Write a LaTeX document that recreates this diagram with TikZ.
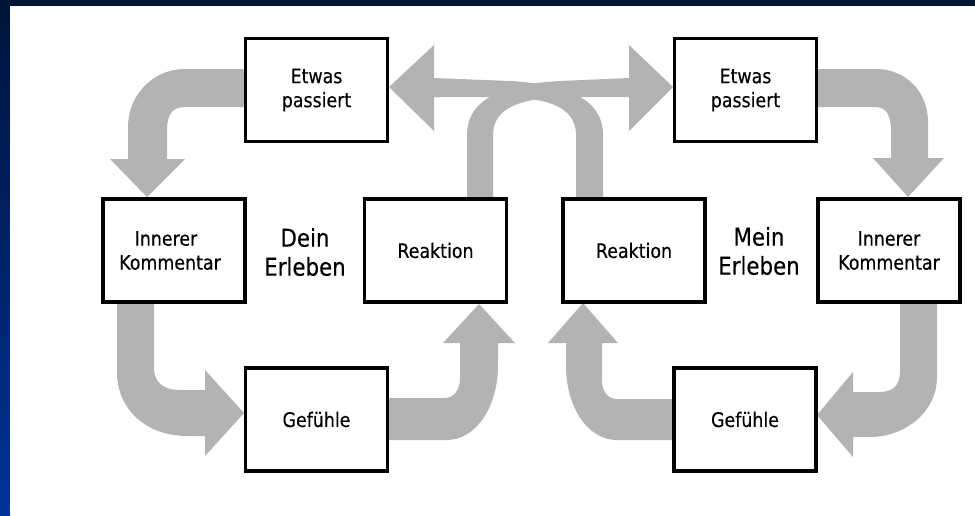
\documentclass[tikz,border=0pt]{standalone}
\usepackage{fontspec}
\setmainfont{DejaVu Sans}[FakeStretch=0.87,FakeBold=0.3]
\definecolor{slidenavy}{RGB}{0,20,56}
\definecolor{slideblue}{RGB}{0,51,153}
\definecolor{flowgray}{RGB}{179,179,179}
\pgfdeclarelayer{canvas}
\pgfdeclarelayer{flows}
\pgfsetlayers{canvas,flows,main}
\begin{document}
\begin{tikzpicture}[x=1pt,y=-1pt,
  stepbox/.style={draw=black, line width=3.2pt, fill=white,
    minimum width=142pt, minimum height=103pt, inner sep=0pt,
    align=center, font=\fontsize{20}{24}\selectfont},
  caption/.style={align=center, inner sep=0pt,
    font=\fontsize{24.5}{29}\selectfont},
  flow/.style={fill=flowgray, draw=none}]
\useasboundingbox (0,0) rectangle (975,515);

% boxes of the two cycles
\node[stepbox] (eL) at (316.5,90)  {Etwas\\passiert};
\node[stepbox] (kL) at (174,250.5) {Innerer\hspace*{16pt}\\Kommentar\hspace*{8pt}};
\node[stepbox] (rL) at (435.5,250.5) {Reaktion};
\node[stepbox] (gL) at (316.5,419.5) {Gefühle};
\node[stepbox] (eR) at (745.5,90)  {Etwas\\passiert};
\node[stepbox] (kR) at (889,250.5) {Innerer\\Kommentar};
\node[stepbox] (rR) at (634,250.5) {Reaktion};
\node[stepbox] (gR) at (745,419.5) {Gefühle};

\node[caption] (dein) at (305,252) {Dein\\Erleben};
\node[caption] (mein) at (759,251) {Mein\\Erleben};

% slide frame
\begin{pgfonlayer}{canvas}
  \fill[slidenavy] (0,0) rectangle (975,515);
  \shade[top color=slidenavy, bottom color=slideblue] (0,0) rectangle (10,515);
  \fill[white] (10,6) rectangle (975,515);
\end{pgfonlayer}

% bent block arrows
\begin{pgfonlayer}{flows}
  % Etwas passiert -> Innerer Kommentar (left)
  \fill[flow] (244,69) -- (185,69) .. controls (153,69) and (128,95) .. (128,127)
    -- (128,159) -- (110,159) -- (147,197) -- (185,159) -- (167,159) -- (167,130)
    .. controls (167,115) and (172,107) .. (185,107) -- (244,107) -- cycle;
  % Innerer Kommentar -> Gefuehle (left)
  \fill[flow] (117,303) -- (117,372) .. controls (117,410) and (147,436) .. (187,436)
    -- (205,436) -- (205,456) -- (244,413) -- (205,370) -- (205,390) -- (180,390)
    .. controls (163,390) and (154,382) .. (154,368) -- (154,303) -- cycle;
  % Gefuehle -> Reaktion (left)
  \fill[flow] (389,398) -- (445,398) .. controls (454,398) and (460,390) .. (460,378)
    -- (460,343) -- (443,343) -- (479,304) -- (515,343) -- (498,343) -- (498,365)
    .. controls (498,408) and (475,440) .. (447,440) -- (389,440) -- cycle;
  % Etwas passiert -> Innerer Kommentar (right)
  \fill[flow] (818,69) -- (876,69) .. controls (906,69) and (928,92) .. (928,122)
    -- (928,158) -- (944,158) -- (908,197) -- (873,158) -- (891,158) -- (891,130)
    .. controls (891,115) and (886,107) .. (875,107) -- (818,107) -- cycle;
  % Innerer Kommentar -> Gefuehle (right)
  \fill[flow] (937,303) -- (937,377) .. controls (937,412) and (905,437) .. (870,437)
    -- (853,437) -- (853,457) -- (817,415) -- (853,372) -- (853,392) -- (880,392)
    .. controls (893,392) and (900,385) .. (900,372) -- (900,303) -- cycle;
  % Gefuehle -> Reaktion (right)
  \fill[flow] (673,399) -- (617,399) .. controls (608,399) and (602,392) .. (602,380)
    -- (602,343) -- (618,343) -- (583,303) -- (548,343) -- (566,343) -- (566,365)
    .. controls (566,408) and (588,440) .. (617,440) -- (673,440) -- cycle;
  % crossing arrows: each Reaktion -> the other Etwas passiert
  \fill[flow] (467,198) -- (467,135) .. controls (467,98) and (505,84) .. (560,81)
    -- (629,78) -- (629,45) -- (673,87) -- (629,131) -- (629,97) -- (560,97)
    .. controls (520,99) and (493,108) .. (493,135) -- (493,198) -- cycle;
  \fill[flow] (603,198) -- (603,135) .. controls (603,98) and (565,84) .. (510,81)
    -- (434,78) -- (434,45) -- (389,87) -- (434,131) -- (434,97) -- (510,97)
    .. controls (550,99) and (576,108) .. (576,135) -- (576,198) -- cycle;
\end{pgfonlayer}
\end{tikzpicture}
\end{document}
